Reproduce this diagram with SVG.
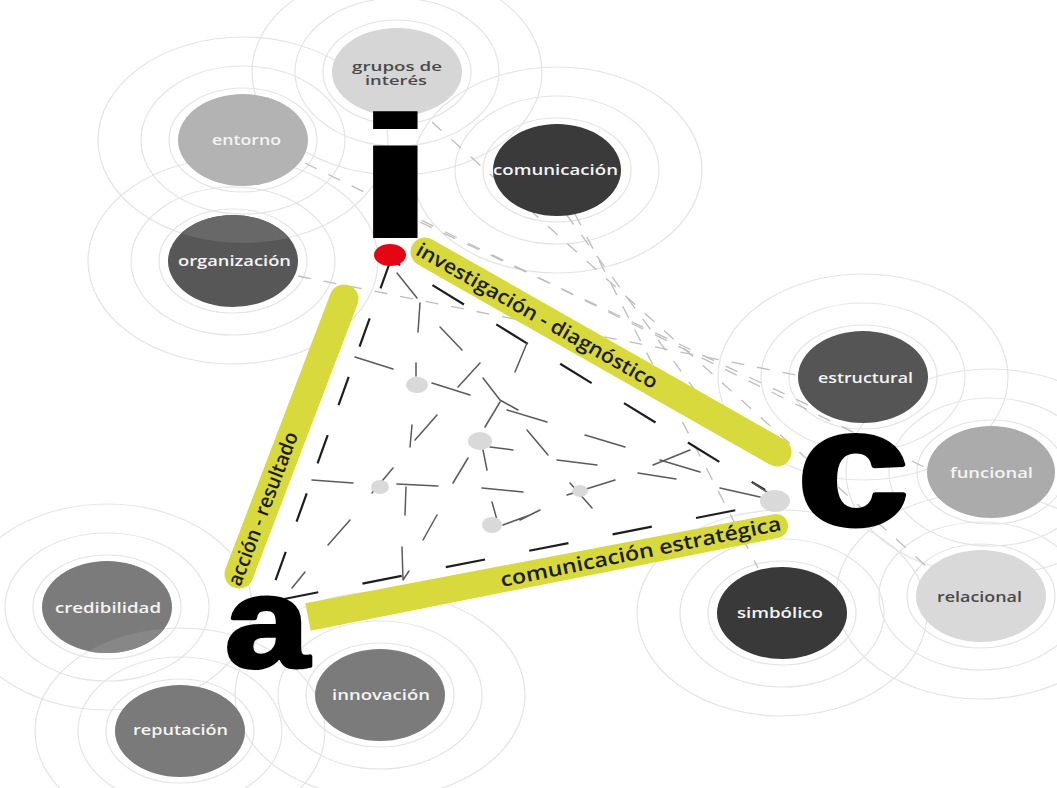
<svg xmlns="http://www.w3.org/2000/svg" xmlns:xlink="http://www.w3.org/1999/xlink" width="1057" height="788" viewBox="0 0 1057 788">
  <defs>
    <style>
      .ring { fill: none; stroke: #e4e4e4; stroke-width: 1.2; }
      .lbl { font-family: "Open Sans", "Liberation Sans", sans-serif; font-size: 15px; font-weight: 600; text-anchor: middle; fill: #f4f4f4; }
      .lbl-dark { fill: #4a4a4a; }
      .lbl-small { font-size: 13px; }
      .band { fill: none; stroke: #d8d93c; stroke-width: 29; stroke-linecap: round; }
      .band-fill { fill: #d8d93c; }
      .band-text { font-family: "Open Sans", "Liberation Sans", sans-serif; font-size: 20px; font-weight: 600; fill: #1c1c1c; }
      .big { font-family: "Liberation Sans", Arial, sans-serif; font-weight: bold; fill: #000; text-anchor: middle; }
      .faint { fill: none; stroke: #bdbdbd; stroke-width: 1.3; stroke-dasharray: 13 13; }
      .axis { fill: none; stroke: #1e1e1e; stroke-width: 2.2; }
      .web { fill: none; stroke: #5a5a5a; stroke-width: 1.5; stroke-linecap: round; }
      .hub { fill: #d9d9d9; }
    </style>
    <!-- concentric halo drawn around every circle -->
    <g id="halo">
      <ellipse class="ring" rx="74" ry="52"/>
      <ellipse class="ring" rx="102" ry="74"/>
      <ellipse class="ring" rx="145" ry="103"/>
    </g>
    <clipPath id="clip-org"><ellipse cx="233" cy="261" rx="65" ry="46"/></clipPath>
    <clipPath id="clip-cred"><ellipse cx="107" cy="607" rx="65" ry="46"/></clipPath>
  </defs>

  <rect width="1057" height="788" fill="#ffffff"/>

  <!-- halos -->
  <g id="halos">
    <use xlink:href="#halo" x="397" y="72"/>
    <use xlink:href="#halo" x="243" y="140"/>
    <use xlink:href="#halo" x="233" y="261"/>
    <use xlink:href="#halo" x="557" y="170"/>
    <use xlink:href="#halo" x="863" y="377"/>
    <use xlink:href="#halo" x="991" y="472"/>
    <use xlink:href="#halo" x="981" y="596"/>
    <use xlink:href="#halo" x="782" y="613"/>
    <use xlink:href="#halo" x="107" y="607"/>
    <use xlink:href="#halo" x="180" y="731"/>
    <use xlink:href="#halo" x="380" y="695"/>
  </g>

  <!-- connectors -->
  <g id="connectors">
    <!-- faint dashed links between the outer circles -->
    <line class="faint" x1="298" y1="276" x2="806" y2="377"/>
    <line class="faint" x1="305" y1="163" x2="930" y2="470"/>
    <line class="faint" x1="432" y1="122" x2="935" y2="574"/>
    <line class="faint" x1="575" y1="214" x2="758" y2="568"/>
    <line class="faint" x1="566" y1="214" x2="735" y2="445"/>
    <line class="faint" x1="420" y1="222" x2="840" y2="420"/>

    <!-- triangle of long dashes -->
    <line class="axis" x1="390" y1="262" x2="272" y2="590" stroke-dasharray="30 32" stroke-dashoffset="2"/>
    <line class="axis" x1="395" y1="262" x2="765" y2="490" stroke-dasharray="37 38" stroke-dashoffset="31"/>
    <line class="axis" x1="279" y1="600" x2="762" y2="505" stroke-dasharray="40 45"/>

    <!-- scattered inner web -->
    <path class="web" d="
      M397,273 L417,298 M420,303 L418,332 M440,327 L462,350 M355,357 L393,369
      M416,363 L416,376 M432,383 L470,395 M458,387 L480,363 M483,378 L500,400
      M500,400 L518,410 M500,402 L485,427 M437,415 L415,440 M412,425 L410,447
      M527,343 L515,372 M507,410 L547,422 M527,430 L548,455 M585,435 L625,447
      M557,460 L597,465 M653,465 L690,450 M660,460 L700,472 M638,473 L676,479
      M312,480 L353,483 M372,493 L393,468 M397,484 L438,486 M406,487 L405,515
      M453,483 L468,458 M483,450 L487,470 M490,447 L513,450 M482,488 L523,492
      M492,502 L497,520 M503,525 L530,515 M437,515 L423,540 M402,547 L403,580
      M403,580 L409,571 M328,545 L350,520 M292,588 L305,572
      M570,483 L592,508 M567,495 L615,480 M520,520 L540,510 M720,488 L760,497"/>
    <path class="web" stroke="#222" stroke-width="2" d="M753,483 L767,492"/>

    <!-- small hubs -->
    <ellipse class="hub" cx="417" cy="385" rx="11" ry="8"/>
    <ellipse class="hub" cx="480" cy="441" rx="12" ry="9"/>
    <ellipse class="hub" cx="380" cy="487" rx="9" ry="7"/>
    <ellipse class="hub" cx="580" cy="491" rx="8" ry="6"/>
    <ellipse class="hub" cx="492" cy="525" rx="10" ry="8"/>
    <ellipse class="hub" cx="775" cy="501" rx="15" ry="11"/>
  </g>

  <!-- yellow process bands -->
  <g id="bands">
    <line class="band" x1="425" y1="252" x2="777" y2="452"/>
    <line class="band" x1="344" y1="299" x2="239" y2="574"/>
    <path class="band-fill" d="M305.3,603.3 L773.7,514.2 A12,12 0 0 1 778.3,537.8 L310.7,630.7 Z"/>
    <text class="band-text" transform="translate(425,252) rotate(29.6)" x="-8" y="7" textLength="274" lengthAdjust="spacingAndGlyphs">investigación - diagnóstico</text>
    <text class="band-text" transform="translate(239,574) rotate(-69.1)" x="-12" y="6" textLength="163" lengthAdjust="spacingAndGlyphs">acción - resultado</text>
    <text class="band-text" transform="translate(502,587) rotate(-11.5)" x="0" y="0" textLength="286" lengthAdjust="spacingAndGlyphs">comunicación estratégica</text>
  </g>

  <!-- outer circles -->
  <g id="node-grupos">
    <ellipse cx="397" cy="72" rx="65" ry="44" fill="#d6d6d6"/>
    <text class="lbl lbl-dark lbl-small" x="397" y="71" textLength="90" lengthAdjust="spacingAndGlyphs">grupos de</text>
    <text class="lbl lbl-dark lbl-small" x="396" y="85" textLength="62" lengthAdjust="spacingAndGlyphs">interés</text>
  </g>
  <g id="node-entorno">
    <ellipse cx="243" cy="140" rx="65" ry="46" fill="#b3b3b3"/>
    <text class="lbl" x="246.5" y="145" textLength="69" lengthAdjust="spacingAndGlyphs">entorno</text>
  </g>
  <g id="node-organizacion">
    <ellipse cx="233" cy="261" rx="65" ry="46" fill="#575757"/>
    <ellipse cx="243" cy="140" rx="145" ry="103" fill="#686868" clip-path="url(#clip-org)"/>
    <text class="lbl" x="234.5" y="266" textLength="113" lengthAdjust="spacingAndGlyphs">organización</text>
  </g>
  <g id="node-comunicacion">
    <ellipse cx="557" cy="170" rx="64" ry="46" fill="#3a3a3a"/>
    <text class="lbl" x="555.5" y="175" textLength="125" lengthAdjust="spacingAndGlyphs">comunicación</text>
  </g>
  <g id="node-estructural">
    <ellipse cx="863" cy="377" rx="65" ry="46" fill="#555555"/>
    <text class="lbl" x="865.5" y="383" textLength="95" lengthAdjust="spacingAndGlyphs">estructural</text>
  </g>
  <g id="node-funcional">
    <ellipse cx="991" cy="472" rx="64" ry="46" fill="#ababab"/>
    <text class="lbl" x="991.5" y="478" textLength="83" lengthAdjust="spacingAndGlyphs">funcional</text>
  </g>
  <g id="node-relacional">
    <ellipse cx="981" cy="596" rx="65" ry="46" fill="#d9d9d9"/>
    <text class="lbl lbl-dark" x="979.5" y="602" textLength="85" lengthAdjust="spacingAndGlyphs">relacional</text>
  </g>
  <g id="node-simbolico">
    <ellipse cx="782" cy="613" rx="65" ry="46" fill="#393939"/>
    <text class="lbl" x="780" y="618" textLength="86" lengthAdjust="spacingAndGlyphs">simbólico</text>
  </g>
  <g id="node-credibilidad">
    <ellipse cx="107" cy="607" rx="65" ry="46" fill="#7b7b7b"/>
    <ellipse cx="180" cy="731" rx="145" ry="103" fill="#878787" clip-path="url(#clip-cred)"/>
    <text class="lbl" x="108" y="613" textLength="106" lengthAdjust="spacingAndGlyphs">credibilidad</text>
  </g>
  <g id="node-reputacion">
    <ellipse cx="180" cy="731" rx="65" ry="46" fill="#7a7a7a"/>
    <text class="lbl" x="180.5" y="735" textLength="95" lengthAdjust="spacingAndGlyphs">reputación</text>
  </g>
  <g id="node-innovacion">
    <ellipse cx="380" cy="695" rx="65" ry="46" fill="#7b7b7b"/>
    <text class="lbl" x="381" y="700" textLength="98" lengthAdjust="spacingAndGlyphs">innovación</text>
  </g>

  <!-- corner letters of the i-a-c model -->
  <g id="node-i">
    <text class="big" transform="translate(395.5,238) scale(1.85,1)" font-size="175">i</text>
    <ellipse cx="390" cy="255" rx="16" ry="11" fill="#e30613"/>
  </g>
  <g id="node-c">
    <text class="big" transform="translate(853,523.5) scale(1.21,1)" font-size="166" stroke="#000" stroke-width="5" stroke-linejoin="round">c</text>
  </g>
  <g id="node-a">
    <text class="big" transform="translate(267,667) scale(1.18,1)" font-size="128" stroke="#000" stroke-width="4" stroke-linejoin="round">a</text>
  </g>
</svg>
